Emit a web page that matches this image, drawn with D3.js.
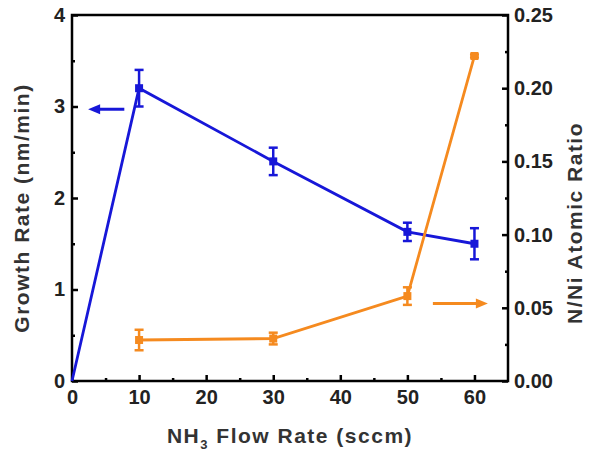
<!DOCTYPE html>
<html><head><meta charset="utf-8">
<script src="https://cdn.jsdelivr.net/npm/d3@7"></script>
<style>body{margin:0;background:#fff}svg{display:block}text{font-family:"Liberation Sans",Arial,sans-serif;font-weight:bold}</style>
</head><body><svg id="c" width="590" height="455"></svg>
<script>
const flow = [0, 10, 30, 50, 60];
const growth = [0, 3.2, 2.4, 1.63, 1.5];
const growthErr = [0, 0.2, 0.15, 0.1, 0.17];
const ratioFlow = [10, 30, 50, 60];
const ratio = [0.028, 0.029, 0.058, 0.222];
const ratioErr = [0.007, 0.004, 0.006, 0.001];
const xTicks = [0, 10, 20, 30, 40, 50, 60];
const yLeftTicks = [0, 1, 2, 3, 4];
const yRightTicks = [0, 0.05, 0.10, 0.15, 0.20, 0.25];
const blueArrow = {x0: 7.8, x1: 2.4, y: 2.97};
const orangeArrow = {x0: 53.8, x1: 62, y: 0.053};

const svg = d3.select("#c");
const L = 72, R = 508, T = 15, B = 381;
const x = d3.scaleLinear().domain([0, 65]).range([L, R]);
const yL = d3.scaleLinear().domain([0, 4]).range([B, T]);
const yR = d3.scaleLinear().domain([0, 0.25]).range([B, T]);
const blue = "#1717d8", orange = "#f58a1f";

svg.append("rect").attr("x", L).attr("y", T).attr("width", R - L).attr("height", B - T)
  .attr("fill", "none").attr("stroke", "#000").attr("stroke-width", 2.5);

function ticks(axisGen, g) { g.call(axisGen); g.select(".domain").remove(); g.selectAll("line").attr("stroke", "#000").attr("stroke-width", 2.5); }

const gx = svg.append("g").attr("transform", `translate(0,${B})`);
ticks(d3.axisBottom(x).tickValues(xTicks).tickSizeInner(-6).tickSizeOuter(0).tickPadding(9).tickFormat(d3.format("d")), gx);
gx.selectAll("text").attr("font-size", 20).attr("fill", "#222");
const gxm = svg.append("g").attr("transform", `translate(0,${B})`);
ticks(d3.axisBottom(x).tickValues([5,15,25,35,45,55]).tickSizeInner(-3).tickSizeOuter(0).tickFormat(""), gxm);

const gy = svg.append("g").attr("transform", `translate(${L},0)`);
ticks(d3.axisLeft(yL).tickValues(yLeftTicks).tickSizeInner(-6).tickSizeOuter(0).tickPadding(7).tickFormat(d3.format("d")), gy);
gy.selectAll("text").attr("font-size", 20).attr("fill", "#222");
const gym = svg.append("g").attr("transform", `translate(${L},0)`);
ticks(d3.axisLeft(yL).tickValues([0.5,1.5,2.5,3.5]).tickSizeInner(-3).tickSizeOuter(0).tickFormat(""), gym);

const gr = svg.append("g").attr("transform", `translate(${R},0)`);
ticks(d3.axisRight(yR).tickValues(yRightTicks).tickSizeInner(-6).tickSizeOuter(0).tickPadding(6).tickFormat(d3.format(".2f")), gr);
gr.selectAll("text").attr("font-size", 20).attr("fill", "#222");
const grm = svg.append("g").attr("transform", `translate(${R},0)`);
ticks(d3.axisRight(yR).tickValues([0.025,0.075,0.125,0.175,0.225]).tickSizeInner(-3).tickSizeOuter(0).tickFormat(""), grm);

svg.append("text").attr("transform", `translate(${L - 43},${(T + B) / 2 + 10}) rotate(-90)`)
  .attr("text-anchor", "middle").attr("font-size", 21).attr("letter-spacing", 1.5).attr("fill", "#333").text("Growth Rate (nm/min)");
svg.append("text").attr("transform", `translate(${R + 74},${(T + B) / 2 + 25}) rotate(-90)`)
  .attr("text-anchor", "middle").attr("font-size", 21).attr("letter-spacing", 1.5).attr("fill", "#333").text("N/Ni Atomic Ratio");
const xt = svg.append("text").attr("x", (L + R) / 2).attr("y", 443).attr("text-anchor", "middle")
  .attr("font-size", 21).attr("letter-spacing", 1.5).attr("fill", "#333");
xt.append("tspan").text("NH");
xt.append("tspan").attr("font-size", 13).attr("dy", 6).text("3");
xt.append("tspan").attr("dy", -6).text(" Flow Rate (sccm)");

function series(xs, ys, es, scale, color) {
  const g = svg.append("g");
  const pts = xs.map((d, i) => ({x: d, y: ys[i], e: es[i]}));
  g.append("path").datum(pts).attr("fill", "none").attr("stroke", color).attr("stroke-width", 2.8)
    .attr("d", d3.line().x(d => x(d.x)).y(d => scale(d.y)));
  const eb = g.selectAll(".eb").data(pts.filter(d => d.e > 0)).join("g");
  eb.append("line").attr("x1", d => x(d.x)).attr("x2", d => x(d.x))
    .attr("y1", d => scale(d.y - d.e)).attr("y2", d => scale(d.y + d.e)).attr("stroke", color).attr("stroke-width", 2.5);
  [-1, 1].forEach(s => eb.append("line").attr("x1", d => x(d.x) - 4.5).attr("x2", d => x(d.x) + 4.5)
    .attr("y1", d => scale(d.y + s * d.e)).attr("y2", d => scale(d.y + s * d.e)).attr("stroke", color).attr("stroke-width", 2.5));
  g.selectAll(".m").data(pts.filter(d => d.x > 0)).join("rect")
    .attr("x", d => x(d.x) - 4).attr("y", d => scale(d.y) - 4).attr("width", 8).attr("height", 8).attr("fill", color);
}
series(flow, growth, growthErr, yL, blue);
series(ratioFlow, ratio, ratioErr, yR, orange);

function arrow(a, scale, color) {
  const x0 = x(a.x0), x1 = x(a.x1), yy = scale(a.y);
  const dir = Math.sign(x1 - x0);
  svg.append("line").attr("x1", x0).attr("x2", x1 - dir * 8).attr("y1", yy).attr("y2", yy)
    .attr("stroke", color).attr("stroke-width", 3);
  svg.append("path").attr("d", `M${x1},${yy} L${x1 - dir * 12},${yy - 5} L${x1 - dir * 12},${yy + 5} Z`).attr("fill", color);
}
arrow(blueArrow, yL, blue);
arrow(orangeArrow, yR, orange);
</script></body></html>
